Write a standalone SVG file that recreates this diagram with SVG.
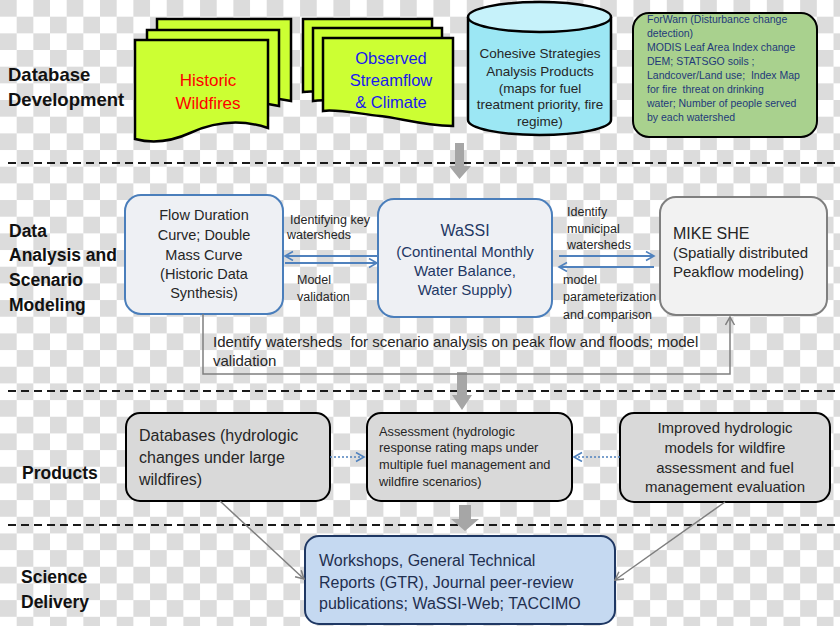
<svg xmlns="http://www.w3.org/2000/svg" width="840" height="626" viewBox="0 0 840 626">
<defs>
<pattern id="cb" width="33.34" height="33.34" patternUnits="userSpaceOnUse"><rect width="33.34" height="33.34" fill="#fff"/><rect width="16.67" height="16.67" fill="#dcdcdc"/><rect x="16.67" y="16.67" width="16.67" height="16.67" fill="#dcdcdc"/></pattern>
<marker id="ab" markerWidth="12" markerHeight="12" refX="9" refY="5" orient="auto" markerUnits="userSpaceOnUse"><path d="M1,0.5 L9,5 L1,9.5" fill="none" stroke="#4f81bd" stroke-width="1.6"/></marker>
<marker id="ag" markerWidth="12" markerHeight="12" refX="9" refY="5" orient="auto" markerUnits="userSpaceOnUse"><path d="M1,0.5 L9,5 L1,9.5" fill="none" stroke="#7f7f7f" stroke-width="1.5"/></marker>
</defs>
<style>
text{font-family:"Liberation Sans",Arial,sans-serif;fill:#262626;white-space:pre}
.sec{font-weight:bold;font-size:17.5px;fill:#111}
.doc{fill:#ccff33;stroke:#000;stroke-width:2.5}
.lbl{font-size:12.5px}
.c{text-anchor:middle}
.rbox{fill:#eef0f4;stroke:#4a7ebb;stroke-width:2}
.gbox{fill:#d9d9d9;stroke:#000;stroke-width:2}
.blk{fill:#a6a6a6}
</style>
<rect width="840" height="626" fill="url(#cb)"/>
<g id="dividers" stroke="#1a1a1a" stroke-width="2" stroke-dasharray="8 5">
<line x1="8" y1="163" x2="836" y2="163"/>
<line x1="8" y1="391" x2="836" y2="391"/>
<line x1="8" y1="525" x2="836" y2="525"/>
</g>
<g id="section-labels">
<text class="sec" x="8" y="81" style="font-size:18.5px">Database</text>
<text class="sec" x="8" y="106" style="font-size:18.5px">Development</text>
<text class="sec" x="9" y="237">Data</text>
<text class="sec" x="9" y="261">Analysis and</text>
<text class="sec" x="9" y="286">Scenario</text>
<text class="sec" x="9" y="311">Modeling</text>
<text class="sec" x="22" y="479">Products</text>
<text class="sec" x="21" y="583">Science</text>
<text class="sec" x="21" y="608">Delivery</text>
</g>
<g id="historic-wildfires">
<path class="doc" d="M157,19 H291 V101 C260,94 235,100 215,108 C195,116 175,116 157,112 Z"/>
<path class="doc" d="M147,30 H279 V106 C250,99 225,105 205,113 C185,121 165,121 147,117 Z"/>
<path class="doc" d="M135,40 H268 V128 C238,118 212,123 190,133 C168,143 150,143 135,139 Z"/>
<text class="c" x="208" y="86" style="font-size:17px;fill:#ff0000">Historic</text>
<text class="c" x="208" y="109" style="font-size:17px;fill:#ff0000">Wildfires</text>
</g>
<g id="observed-streamflow">
<path class="doc" d="M303,19 H432 V105 C400,104 380,98 360,96 C335,93 315,90 303,92 Z"/>
<path class="doc" d="M313,28 H442 V115 C410,114 390,106 370,104 C345,101 325,99 313,101 Z"/>
<path class="doc" d="M323,38 H453 V126 C420,125 400,118 380,116 C355,113 335,109 323,111 Z"/>
<text class="c" x="391" y="64" style="font-size:16.5px;fill:#1a1aee">Observed</text>
<text class="c" x="391" y="86" style="font-size:16.5px;fill:#1a1aee">Streamflow</text>
<text class="c" x="391" y="108" style="font-size:16.5px;fill:#1a1aee">&amp; Climate</text>
</g>
<g id="cohesive-strategies">
<path d="M468,17 V120 A71.5,15 0 0 0 611,120 V17" fill="#9ce7f4" stroke="#000" stroke-width="2.5"/>
<ellipse cx="539.5" cy="17" rx="71.5" ry="15" fill="#c6f2fa" stroke="#000" stroke-width="2.5"/>
<text class="c" x="540" y="58" style="font-size:13.5px">Cohesive Strategies</text>
<text class="c" x="540" y="76" style="font-size:13.5px">Analysis Products</text>
<text class="c" x="540" y="93" style="font-size:13.5px">(maps for fuel</text>
<text class="c" x="540" y="109" style="font-size:13.5px">treatment priority, fire</text>
<text class="c" x="540" y="126" style="font-size:13.5px">regime)</text>
</g>
<g id="forwarn">
<rect x="633" y="13" width="184" height="124" rx="16" fill="#a9d18e" stroke="#000" stroke-width="2"/>
<g style="font-size:10.5px">
<text x="647" y="23" style="fill:#1f3a7a">ForWarn (Disturbance change</text>
<text x="647" y="37" style="fill:#1f3a7a">detection)</text>
<text x="647" y="51" style="fill:#1f3a7a">MODIS Leaf Area Index change</text>
<text x="647" y="65" style="fill:#1f3a7a">DEM; STATSGO soils ;</text>
<text x="647" y="79" style="fill:#1f3a7a">Landcover/Land use;  Index Map</text>
<text x="647" y="93" style="fill:#1f3a7a">for fire  threat on drinking</text>
<text x="647" y="107" style="fill:#1f3a7a">water; Number of people served</text>
<text x="647" y="121" style="fill:#1f3a7a">by each watershed</text>
</g>
</g>
<g id="flow-duration">
<rect class="rbox" x="125" y="195" width="158" height="119" rx="16"/>
<text class="c" x="204" y="220" style="font-size:14.5px">Flow Duration</text>
<text class="c" x="204" y="240" style="font-size:14.5px">Curve; Double</text>
<text class="c" x="204" y="260" style="font-size:14.5px">Mass Curve</text>
<text class="c" x="204" y="279" style="font-size:14.5px">(Historic Data</text>
<text class="c" x="204" y="298" style="font-size:14.5px">Synthesis)</text>
</g>
<g id="wassi">
<rect class="rbox" x="378" y="199" width="174" height="118" rx="16"/>
<text class="c" x="465" y="236" style="font-size:16px;fill:#1f3864">WaSSI</text>
<text class="c" x="465" y="257" style="font-size:15px;fill:#1f3864">(Continental Monthly</text>
<text class="c" x="465" y="276" style="font-size:15px;fill:#1f3864">Water Balance,</text>
<text class="c" x="465" y="295" style="font-size:15px;fill:#1f3864">Water Supply)</text>
</g>
<g id="mike-she">
<rect x="660" y="197" width="167" height="118" rx="16" fill="#f2f2f2" stroke="#7f7f7f" stroke-width="2"/>
<text x="673" y="239" style="font-size:16px">MIKE SHE</text>
<text x="673" y="258" style="font-size:15px">(Spatially distributed</text>
<text x="673" y="277" style="font-size:15px">Peakflow modeling)</text>
</g>
<g id="databases">
<rect class="gbox" x="126" y="413" width="204" height="88" rx="14"/>
<text x="139" y="441" style="font-size:16px">Databases (hydrologic</text>
<text x="139" y="463" style="font-size:16px">changes under large</text>
<text x="139" y="485" style="font-size:16px">wildfires)</text>
</g>
<g id="assessment">
<rect class="gbox" x="367" y="413" width="205" height="88" rx="14"/>
<text x="379" y="436" style="font-size:12.8px">Assessment (hydrologic</text>
<text x="379" y="452" style="font-size:12.8px">response rating maps under</text>
<text x="379" y="469" style="font-size:12.8px">multiple fuel management and</text>
<text x="379" y="486" style="font-size:12.8px">wildfire scenarios)</text>
</g>
<g id="improved-models">
<rect class="gbox" x="620" y="413" width="210" height="89" rx="14"/>
<text class="c" x="725" y="433" style="font-size:15px">Improved hydrologic</text>
<text class="c" x="725" y="453" style="font-size:15px">models for wildfire</text>
<text class="c" x="725" y="473" style="font-size:15px">assessment and fuel</text>
<text class="c" x="725" y="492" style="font-size:15px">management evaluation</text>
</g>
<g id="workshops">
<rect x="305" y="536" width="310" height="88" rx="14" fill="#c5d9f1" stroke="#1f3864" stroke-width="2"/>
<text x="319" y="566" style="font-size:16px;fill:#1f2f4f">Workshops, General Technical</text>
<text x="319" y="588" style="font-size:16px;fill:#1f2f4f">Reports (GTR), Journal peer-review</text>
<text x="319" y="609" style="font-size:16px;fill:#1f2f4f">publications; WaSSI-Web; TACCIMO</text>
</g>
<g id="connectors">
<polygon class="blk" points="455,143 464,143 464,166 471,166 459.5,179 449,166 455,166"/>
<polygon class="blk" points="457,372 467,372 467,395 472,395 462,410 452,395 457,395"/>
<polygon class="blk" points="459,505 471,505 471,519 479,519 465,531 451,519 459,519"/>
<g stroke="#4f81bd" stroke-width="2" fill="none">
<line x1="378" y1="256" x2="285" y2="256" marker-end="url(#ab)"/>
<line x1="285" y1="263" x2="377" y2="263" marker-end="url(#ab)"/>
<line x1="559" y1="256" x2="654" y2="256" marker-end="url(#ab)"/>
<line x1="654" y1="267" x2="559" y2="267" marker-end="url(#ab)"/>
</g>
<g stroke="#4f81bd" stroke-width="1.6" fill="none" stroke-dasharray="2 2">
<line x1="330" y1="457" x2="364" y2="457" marker-end="url(#ab)"/>
<line x1="620" y1="457" x2="574" y2="457" marker-end="url(#ab)"/>
</g>
<g stroke="#7f7f7f" stroke-width="1.5" fill="none">
<polyline points="203,314 203,374 730,374 730,317" marker-end="url(#ag)"/>
<line x1="220" y1="501" x2="304" y2="579" marker-end="url(#ag)"/>
<line x1="725" y1="502" x2="615" y2="580" marker-end="url(#ag)"/>
</g>
<text class="lbl" x="290" y="224">Identifying key</text>
<text class="lbl" x="287" y="239">watersheds</text>
<text class="lbl" x="297" y="284">Model</text>
<text class="lbl" x="297" y="301">validation</text>
<text class="lbl" x="567" y="216">Identify</text>
<text class="lbl" x="567" y="233">municipal</text>
<text class="lbl" x="567" y="249">watersheds</text>
<text class="lbl" x="563" y="284">model</text>
<text class="lbl" x="563" y="301">parameterization</text>
<text class="lbl" x="563" y="319">and comparison</text>
<text x="213" y="347" style="font-size:15px">Identify watersheds  for scenario analysis on peak flow and floods; model</text>
<text x="213" y="366" style="font-size:15px">validation</text>
</g>
</svg>
